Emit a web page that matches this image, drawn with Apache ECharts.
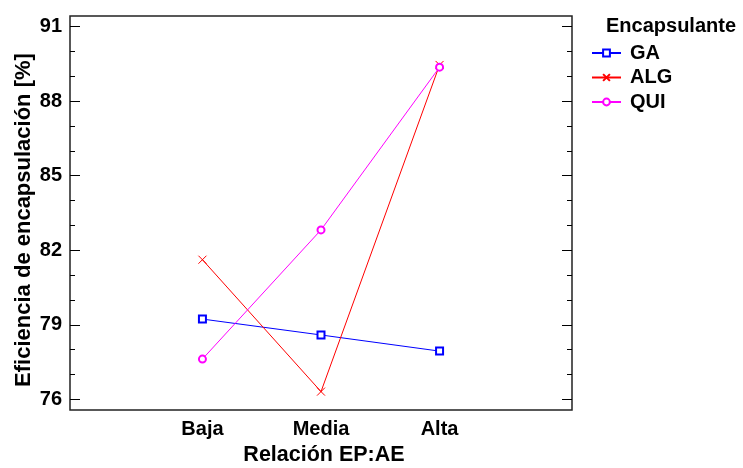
<!DOCTYPE html>
<html>
<head>
<meta charset="utf-8">
<script src="https://cdn.jsdelivr.net/npm/echarts@6/dist/echarts.min.js"></script>
<style>html,body{margin:0;padding:0;background:#fff}#c{width:743px;height:468px}</style>
</head>
<body>
<div id="c"></div>
<script>
const categories = ['Baja', 'Media', 'Alta'];
const seriesNames = ['GA', 'ALG', 'QUI'];
const gaValues = [79.23, 78.59, 77.94];
const algValues = [81.62, 76.31, 89.46];
const quiValues = [77.62, 82.82, 89.37];
const yMajorTicks = [76, 79, 82, 85, 88, 91];
const yMinorTicks = [76, 77, 78, 79, 80, 81, 82, 83, 84, 85, 86, 87, 88, 89, 90, 91];
const xTitle = 'Relación EP:AE';
const yTitle = 'Eficiencia de encapsulación [%]';
const legendTitle = 'Encapsulante';

const FONT = "'Liberation Sans', Arial, sans-serif";
const YMIN = 75.57, YMAX = 91.43;
const toPts = vals => vals.map((v, i) => [i, v]);

function yAx(pos, ticks, len, labels) {
  return {
    type: 'value', position: pos, min: YMIN, max: YMAX,
    axisLine: { show: false, onZero: false },
    splitLine: { show: false },
    axisTick: { show: true, inside: true, length: len, customValues: ticks, lineStyle: { color: '#000', width: 1 } },
    axisLabel: labels ? { show: true, customValues: yMajorTicks, margin: 8, color: '#000', fontFamily: FONT, fontWeight: 'bold', fontSize: 20 } : { show: false }
  };
}

const yAxes = [yAx('left', yMajorTicks, 10, true), yAx('left', yMinorTicks, 5, false), yAx('right', yMajorTicks, 10, false), yAx('right', yMinorTicks, 5, false)];

const chart = echarts.init(document.getElementById('c'), null, { renderer: 'canvas' });
chart.setOption({
  animation: false,
  backgroundColor: '#fff',
  grid: { left: 70, right: 171, top: 16, bottom: 58, outerBoundsMode: 'none', containLabel: false, show: true, borderColor: '#222', borderWidth: 1.5, backgroundColor: 'transparent' },
  xAxis: {
    type: 'value', min: -1.117, max: 3.117,
    axisLine: { show: false, onZero: false }, axisTick: { show: false }, splitLine: { show: false },
    axisLabel: { customValues: [0, 1, 2], formatter: v => categories[Math.round(v)], margin: 9, color: '#000', fontFamily: FONT, fontWeight: 'bold', fontSize: 20 },
    name: xTitle, nameLocation: 'middle', nameGap: 32,
    nameTextStyle: { color: '#000', fontFamily: FONT, fontWeight: 'bold', fontSize: 21.5, padding: [0, 0, 0, 6] }
  },
  yAxis: yAxes,
  legend: {
    orient: 'vertical', left: 591, top: 43, padding: 0, itemWidth: 29, itemHeight: 8.5, itemGap: 4.5,
    data: seriesNames,
    textStyle: { color: '#000', fontFamily: FONT, fontWeight: 'bold', fontSize: 20, lineHeight: 20, padding: [0, 0, 0, 4] }
  },
  graphic: [{
    type: 'text', left: 606, top: 16,
    style: { text: legendTitle, fill: '#000', font: "bold 20px 'Liberation Sans', Arial, sans-serif" }
  }, {
    type: 'text', x: 24, y: 220, rotation: Math.PI / 2,
    style: { text: yTitle, fill: '#000', font: "bold 22px 'Liberation Sans', Arial, sans-serif", align: 'center', verticalAlign: 'middle' }
  }],
  series: [
    { name: seriesNames[0], type: 'line', data: toPts(gaValues), symbol: 'emptyRect', symbolSize: 7, color: '#0000ff',
      lineStyle: { width: 1, color: '#0000ff' }, itemStyle: { color: '#0000ff', borderWidth: 1.3 } },
    { name: seriesNames[1], type: 'line', data: toPts(algValues), symbol: 'path://M0,0L10,10M10,0L0,10', symbolSize: 8, color: '#ff0000',
      lineStyle: { width: 1, color: '#ff0000' }, itemStyle: { color: '#ff0000', borderColor: '#ff0000', borderWidth: 1 } },
    { name: seriesNames[2], type: 'line', data: toPts(quiValues), symbol: 'emptyCircle', symbolSize: 7, color: '#ff00ff',
      lineStyle: { width: 1, color: '#ff00ff' }, itemStyle: { color: '#ff00ff', borderWidth: 1.2 } }
  ]
});
</script>
</body>
</html>
